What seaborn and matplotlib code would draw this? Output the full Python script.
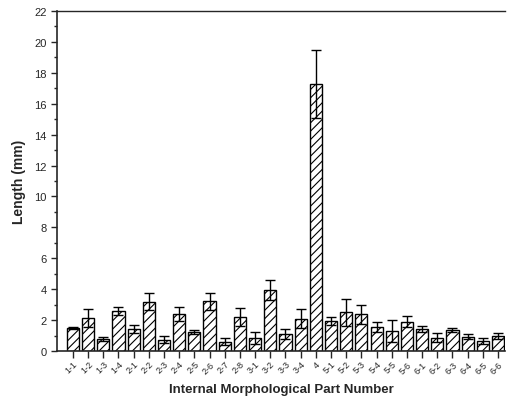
import matplotlib
matplotlib.use("Agg")
import matplotlib.pyplot as plt
import seaborn as sns
import pandas as pd
from matplotlib.ticker import MultipleLocator

# =========================
# 数据
# =========================
parts = ["1-1", "1-2", "1-3", "1-4", "2-1", "2-2", "2-3", "2-4", "2-5", "2-6",
         "2-7", "2-8", "3-1", "3-2", "3-3", "3-4", "4", "5-1", "5-2", "5-3",
         "5-4", "5-5", "5-6", "6-1", "6-2", "6-3", "6-4", "6-5", "6-6"]
lengths = [1.5, 2.12, 0.8, 2.58, 1.42, 3.2, 0.72, 2.38, 1.2, 3.22,
           0.6, 2.22, 0.84, 3.95, 1.12, 2.1, 17.3, 1.96, 2.5, 2.37,
           1.57, 1.31, 1.9, 1.42, 0.86, 1.38, 0.93, 0.63, 0.97]
errors = [0.08, 0.6, 0.13, 0.27, 0.26, 0.53, 0.22, 0.47, 0.13, 0.56,
          0.22, 0.58, 0.36, 0.65, 0.33, 0.6, 2.2, 0.25, 0.87, 0.6,
          0.33, 0.72, 0.35, 0.18, 0.29, 0.12, 0.17, 0.19, 0.21]

df = pd.DataFrame({"part": parts, "length": lengths})

sns.set_style("ticks")
plt.rcParams["font.family"] = ["Liberation Sans", "DejaVu Sans"]
plt.rcParams["hatch.linewidth"] = 0.8

fig = plt.figure(figsize=(5.11, 4.10), dpi=100)
ax = fig.add_axes([0.1115, 0.1415, 0.8765, 0.8292])

sns.barplot(data=df, x="part", y="length", color="white", edgecolor="black",
            linewidth=1.0, hatch="////", width=0.8, errorbar=None, ax=ax)

ax.errorbar(range(len(parts)), lengths, yerr=errors, fmt="none",
            ecolor="black", elinewidth=1.0, capsize=3.8, capthick=1.0)

ax.set_ylim(0, 22)
ax.set_xlim(-1.05, 28.45)
ax.yaxis.set_major_locator(MultipleLocator(2))
ax.yaxis.set_minor_locator(MultipleLocator(1))
ax.tick_params(axis="y", which="major", length=4, width=1, labelsize=8)
ax.tick_params(axis="y", which="minor", length=2, width=1)
ax.tick_params(axis="x", length=5, width=1, labelsize=6.5, pad=1)
for lab in ax.get_xticklabels():
    lab.set_rotation(45)
    lab.set_ha("right")
    lab.set_rotation_mode("anchor")

ax.spines["right"].set_visible(False)
ax.spines["left"].set_linewidth(1.2)
ax.spines["bottom"].set_linewidth(1.2)
ax.spines["top"].set_linewidth(1.0)

ax.set_xlabel("Internal Morphological Part Number", fontsize=9.5, fontweight="bold", labelpad=6)
ax.set_ylabel("Length (mm)", fontsize=10, fontweight="bold", labelpad=6)

fig.savefig("out.png", dpi=100)
